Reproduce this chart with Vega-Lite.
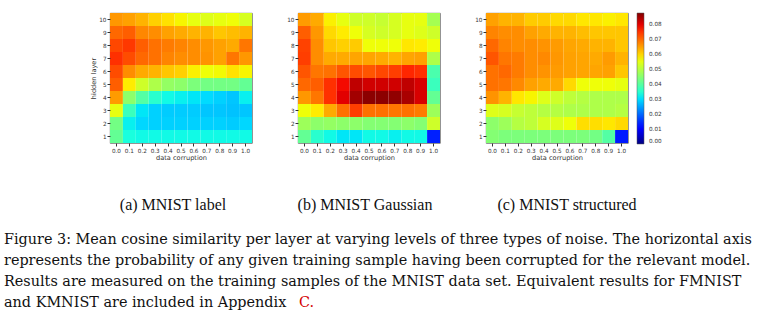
{
"$schema": "https://vega.github.io/schema/vega-lite/v6.json",
"autosize": {"type": "pad"},
"padding": {"left": 4, "top": 12, "right": 0, "bottom": 0},
"background": "white",
"config": {
  "view": {"stroke": "#555", "strokeWidth": 0.8},
  "axis": {"labelFont": "DejaVu Sans", "labelFontSize": 5.7, "labelColor": "#333", "titleFont": "DejaVu Sans", "titleFontSize": 6.6, "titleFontWeight": "normal", "titleColor": "#333", "tickColor": "#333", "tickSize": 3, "domain": false, "grid": false, "labelPadding": 1, "titlePadding": 2},
  "title": {"font": "Liberation Serif", "fontSize": 16, "fontWeight": "normal", "color": "#111"}
},
"datasets": {
"label": [
{"c":"0.0","l":10,"v":0.0657},{"c":"0.1","l":10,"v":0.0648},{"c":"0.2","l":10,"v":0.0631},{"c":"0.3","l":10,"v":0.0604},{"c":"0.4","l":10,"v":0.0587},{"c":"0.5","l":10,"v":0.0569},{"c":"0.6","l":10,"v":0.0552},{"c":"0.7","l":10,"v":0.0543},{"c":"0.8","l":10,"v":0.0552},{"c":"0.9","l":10,"v":0.0561},{"c":"1.0","l":10,"v":0.0534},
{"c":"0.0","l":9,"v":0.0701},{"c":"0.1","l":9,"v":0.0710},{"c":"0.2","l":9,"v":0.0672},{"c":"0.3","l":9,"v":0.0666},{"c":"0.4","l":9,"v":0.0648},{"c":"0.5","l":9,"v":0.0639},{"c":"0.6","l":9,"v":0.0631},{"c":"0.7","l":9,"v":0.0631},{"c":"0.8","l":9,"v":0.0613},{"c":"0.9","l":9,"v":0.0622},{"c":"1.0","l":9,"v":0.0631},
{"c":"0.0","l":8,"v":0.0731},{"c":"0.1","l":8,"v":0.0745},{"c":"0.2","l":8,"v":0.0710},{"c":"0.3","l":8,"v":0.0692},{"c":"0.4","l":8,"v":0.0683},{"c":"0.5","l":8,"v":0.0675},{"c":"0.6","l":8,"v":0.0666},{"c":"0.7","l":8,"v":0.0657},{"c":"0.8","l":8,"v":0.0648},{"c":"0.9","l":8,"v":0.0639},{"c":"1.0","l":8,"v":0.0688},
{"c":"0.0","l":7,"v":0.0753},{"c":"0.1","l":7,"v":0.0727},{"c":"0.2","l":7,"v":0.0701},{"c":"0.3","l":7,"v":0.0692},{"c":"0.4","l":7,"v":0.0675},{"c":"0.5","l":7,"v":0.0666},{"c":"0.6","l":7,"v":0.0666},{"c":"0.7","l":7,"v":0.0661},{"c":"0.8","l":7,"v":0.0648},{"c":"0.9","l":7,"v":0.0688},{"c":"1.0","l":7,"v":0.0657},
{"c":"0.0","l":6,"v":0.0727},{"c":"0.1","l":6,"v":0.0666},{"c":"0.2","l":6,"v":0.0639},{"c":"0.3","l":6,"v":0.0631},{"c":"0.4","l":6,"v":0.0613},{"c":"0.5","l":6,"v":0.0604},{"c":"0.6","l":6,"v":0.0574},{"c":"0.7","l":6,"v":0.0561},{"c":"0.8","l":6,"v":0.0565},{"c":"0.9","l":6,"v":0.0587},{"c":"1.0","l":6,"v":0.0569},
{"c":"0.0","l":5,"v":0.0710},{"c":"0.1","l":5,"v":0.0578},{"c":"0.2","l":5,"v":0.0526},{"c":"0.3","l":5,"v":0.0491},{"c":"0.4","l":5,"v":0.0464},{"c":"0.5","l":5,"v":0.0456},{"c":"0.6","l":5,"v":0.0438},{"c":"0.7","l":5,"v":0.0429},{"c":"0.8","l":5,"v":0.0429},{"c":"0.9","l":5,"v":0.0429},{"c":"1.0","l":5,"v":0.0412},
{"c":"0.0","l":4,"v":0.0653},{"c":"0.1","l":4,"v":0.0456},{"c":"0.2","l":4,"v":0.0394},{"c":"0.3","l":4,"v":0.0350},{"c":"0.4","l":4,"v":0.0324},{"c":"0.5","l":4,"v":0.0315},{"c":"0.6","l":4,"v":0.0307},{"c":"0.7","l":4,"v":0.0298},{"c":"0.8","l":4,"v":0.0289},{"c":"0.9","l":4,"v":0.0280},{"c":"1.0","l":4,"v":0.0315},
{"c":"0.0","l":3,"v":0.0552},{"c":"0.1","l":3,"v":0.0368},{"c":"0.2","l":3,"v":0.0307},{"c":"0.3","l":3,"v":0.0289},{"c":"0.4","l":3,"v":0.0285},{"c":"0.5","l":3,"v":0.0285},{"c":"0.6","l":3,"v":0.0285},{"c":"0.7","l":3,"v":0.0280},{"c":"0.8","l":3,"v":0.0280},{"c":"0.9","l":3,"v":0.0276},{"c":"1.0","l":3,"v":0.0280},
{"c":"0.0","l":2,"v":0.0429},{"c":"0.1","l":2,"v":0.0315},{"c":"0.2","l":2,"v":0.0294},{"c":"0.3","l":2,"v":0.0289},{"c":"0.4","l":2,"v":0.0289},{"c":"0.5","l":2,"v":0.0289},{"c":"0.6","l":2,"v":0.0289},{"c":"0.7","l":2,"v":0.0289},{"c":"0.8","l":2,"v":0.0289},{"c":"0.9","l":2,"v":0.0285},{"c":"1.0","l":2,"v":0.0294},
{"c":"0.0","l":1,"v":0.0412},{"c":"0.1","l":1,"v":0.0333},{"c":"0.2","l":1,"v":0.0324},{"c":"0.3","l":1,"v":0.0324},{"c":"0.4","l":1,"v":0.0324},{"c":"0.5","l":1,"v":0.0324},{"c":"0.6","l":1,"v":0.0324},{"c":"0.7","l":1,"v":0.0324},{"c":"0.8","l":1,"v":0.0324},{"c":"0.9","l":1,"v":0.0324},{"c":"1.0","l":1,"v":0.0324}
],
"gaussian": [
{"c":"0.0","l":10,"v":0.0653},{"c":"0.1","l":10,"v":0.0639},{"c":"0.2","l":10,"v":0.0574},{"c":"0.3","l":10,"v":0.0552},{"c":"0.4","l":10,"v":0.0526},{"c":"0.5","l":10,"v":0.0526},{"c":"0.6","l":10,"v":0.0517},{"c":"0.7","l":10,"v":0.0534},{"c":"0.8","l":10,"v":0.0552},{"c":"0.9","l":10,"v":0.0552},{"c":"1.0","l":10,"v":0.0482},
{"c":"0.0","l":9,"v":0.0710},{"c":"0.1","l":9,"v":0.0657},{"c":"0.2","l":9,"v":0.0596},{"c":"0.3","l":9,"v":0.0578},{"c":"0.4","l":9,"v":0.0561},{"c":"0.5","l":9,"v":0.0534},{"c":"0.6","l":9,"v":0.0526},{"c":"0.7","l":9,"v":0.0534},{"c":"0.8","l":9,"v":0.0552},{"c":"0.9","l":9,"v":0.0543},{"c":"1.0","l":9,"v":0.0526},
{"c":"0.0","l":8,"v":0.0736},{"c":"0.1","l":8,"v":0.0666},{"c":"0.2","l":8,"v":0.0613},{"c":"0.3","l":8,"v":0.0604},{"c":"0.4","l":8,"v":0.0609},{"c":"0.5","l":8,"v":0.0561},{"c":"0.6","l":8,"v":0.0561},{"c":"0.7","l":8,"v":0.0561},{"c":"0.8","l":8,"v":0.0583},{"c":"0.9","l":8,"v":0.0578},{"c":"1.0","l":8,"v":0.0561},
{"c":"0.0","l":7,"v":0.0740},{"c":"0.1","l":7,"v":0.0666},{"c":"0.2","l":7,"v":0.0639},{"c":"0.3","l":7,"v":0.0639},{"c":"0.4","l":7,"v":0.0644},{"c":"0.5","l":7,"v":0.0644},{"c":"0.6","l":7,"v":0.0639},{"c":"0.7","l":7,"v":0.0631},{"c":"0.8","l":7,"v":0.0644},{"c":"0.9","l":7,"v":0.0648},{"c":"1.0","l":7,"v":0.0491},
{"c":"0.0","l":6,"v":0.0718},{"c":"0.1","l":6,"v":0.0688},{"c":"0.2","l":6,"v":0.0692},{"c":"0.3","l":6,"v":0.0718},{"c":"0.4","l":6,"v":0.0727},{"c":"0.5","l":6,"v":0.0718},{"c":"0.6","l":6,"v":0.0731},{"c":"0.7","l":6,"v":0.0740},{"c":"0.8","l":6,"v":0.0762},{"c":"0.9","l":6,"v":0.0753},{"c":"1.0","l":6,"v":0.0385},
{"c":"0.0","l":5,"v":0.0701},{"c":"0.1","l":5,"v":0.0710},{"c":"0.2","l":5,"v":0.0753},{"c":"0.3","l":5,"v":0.0788},{"c":"0.4","l":5,"v":0.0828},{"c":"0.5","l":5,"v":0.0815},{"c":"0.6","l":5,"v":0.0815},{"c":"0.7","l":5,"v":0.0815},{"c":"0.8","l":5,"v":0.0828},{"c":"0.9","l":5,"v":0.0810},{"c":"1.0","l":5,"v":0.0368},
{"c":"0.0","l":4,"v":0.0657},{"c":"0.1","l":4,"v":0.0688},{"c":"0.2","l":4,"v":0.0753},{"c":"0.3","l":4,"v":0.0802},{"c":"0.4","l":4,"v":0.0850},{"c":"0.5","l":4,"v":0.0867},{"c":"0.6","l":4,"v":0.0867},{"c":"0.7","l":4,"v":0.0863},{"c":"0.8","l":4,"v":0.0845},{"c":"0.9","l":4,"v":0.0810},{"c":"1.0","l":4,"v":0.0412},
{"c":"0.0","l":3,"v":0.0561},{"c":"0.1","l":3,"v":0.0578},{"c":"0.2","l":3,"v":0.0639},{"c":"0.3","l":3,"v":0.0692},{"c":"0.4","l":3,"v":0.0740},{"c":"0.5","l":3,"v":0.0692},{"c":"0.6","l":3,"v":0.0692},{"c":"0.7","l":3,"v":0.0688},{"c":"0.8","l":3,"v":0.0692},{"c":"0.9","l":3,"v":0.0683},{"c":"1.0","l":3,"v":0.0473},
{"c":"0.0","l":2,"v":0.0473},{"c":"0.1","l":2,"v":0.0456},{"c":"0.2","l":2,"v":0.0464},{"c":"0.3","l":2,"v":0.0456},{"c":"0.4","l":2,"v":0.0456},{"c":"0.5","l":2,"v":0.0447},{"c":"0.6","l":2,"v":0.0447},{"c":"0.7","l":2,"v":0.0447},{"c":"0.8","l":2,"v":0.0456},{"c":"0.9","l":2,"v":0.0447},{"c":"1.0","l":2,"v":0.0526},
{"c":"0.0","l":1,"v":0.0412},{"c":"0.1","l":1,"v":0.0350},{"c":"0.2","l":1,"v":0.0324},{"c":"0.3","l":1,"v":0.0307},{"c":"0.4","l":1,"v":0.0307},{"c":"0.5","l":1,"v":0.0324},{"c":"0.6","l":1,"v":0.0324},{"c":"0.7","l":1,"v":0.0315},{"c":"0.8","l":1,"v":0.0324},{"c":"0.9","l":1,"v":0.0324},{"c":"1.0","l":1,"v":0.0136}
],
"structured": [
{"c":"0.0","l":10,"v":0.0648},{"c":"0.1","l":10,"v":0.0631},{"c":"0.2","l":10,"v":0.0631},{"c":"0.3","l":10,"v":0.0609},{"c":"0.4","l":10,"v":0.0609},{"c":"0.5","l":10,"v":0.0596},{"c":"0.6","l":10,"v":0.0596},{"c":"0.7","l":10,"v":0.0583},{"c":"0.8","l":10,"v":0.0583},{"c":"0.9","l":10,"v":0.0574},{"c":"1.0","l":10,"v":0.0583},
{"c":"0.0","l":9,"v":0.0675},{"c":"0.1","l":9,"v":0.0666},{"c":"0.2","l":9,"v":0.0666},{"c":"0.3","l":9,"v":0.0648},{"c":"0.4","l":9,"v":0.0639},{"c":"0.5","l":9,"v":0.0631},{"c":"0.6","l":9,"v":0.0631},{"c":"0.7","l":9,"v":0.0622},{"c":"0.8","l":9,"v":0.0613},{"c":"0.9","l":9,"v":0.0613},{"c":"1.0","l":9,"v":0.0613},
{"c":"0.0","l":8,"v":0.0701},{"c":"0.1","l":8,"v":0.0675},{"c":"0.2","l":8,"v":0.0666},{"c":"0.3","l":8,"v":0.0666},{"c":"0.4","l":8,"v":0.0661},{"c":"0.5","l":8,"v":0.0653},{"c":"0.6","l":8,"v":0.0644},{"c":"0.7","l":8,"v":0.0639},{"c":"0.8","l":8,"v":0.0631},{"c":"0.9","l":8,"v":0.0631},{"c":"1.0","l":8,"v":0.0613},
{"c":"0.0","l":7,"v":0.0718},{"c":"0.1","l":7,"v":0.0688},{"c":"0.2","l":7,"v":0.0683},{"c":"0.3","l":7,"v":0.0666},{"c":"0.4","l":7,"v":0.0670},{"c":"0.5","l":7,"v":0.0657},{"c":"0.6","l":7,"v":0.0648},{"c":"0.7","l":7,"v":0.0644},{"c":"0.8","l":7,"v":0.0639},{"c":"0.9","l":7,"v":0.0653},{"c":"1.0","l":7,"v":0.0631},
{"c":"0.0","l":6,"v":0.0692},{"c":"0.1","l":6,"v":0.0701},{"c":"0.2","l":6,"v":0.0683},{"c":"0.3","l":6,"v":0.0666},{"c":"0.4","l":6,"v":0.0661},{"c":"0.5","l":6,"v":0.0653},{"c":"0.6","l":6,"v":0.0648},{"c":"0.7","l":6,"v":0.0644},{"c":"0.8","l":6,"v":0.0644},{"c":"0.9","l":6,"v":0.0648},{"c":"1.0","l":6,"v":0.0613},
{"c":"0.0","l":5,"v":0.0692},{"c":"0.1","l":5,"v":0.0688},{"c":"0.2","l":5,"v":0.0670},{"c":"0.3","l":5,"v":0.0648},{"c":"0.4","l":5,"v":0.0639},{"c":"0.5","l":5,"v":0.0639},{"c":"0.6","l":5,"v":0.0596},{"c":"0.7","l":5,"v":0.0561},{"c":"0.8","l":5,"v":0.0561},{"c":"0.9","l":5,"v":0.0561},{"c":"1.0","l":5,"v":0.0552},
{"c":"0.0","l":4,"v":0.0661},{"c":"0.1","l":4,"v":0.0631},{"c":"0.2","l":4,"v":0.0583},{"c":"0.3","l":4,"v":0.0569},{"c":"0.4","l":4,"v":0.0543},{"c":"0.5","l":4,"v":0.0526},{"c":"0.6","l":4,"v":0.0508},{"c":"0.7","l":4,"v":0.0499},{"c":"0.8","l":4,"v":0.0491},{"c":"0.9","l":4,"v":0.0491},{"c":"1.0","l":4,"v":0.0491},
{"c":"0.0","l":3,"v":0.0543},{"c":"0.1","l":3,"v":0.0534},{"c":"0.2","l":3,"v":0.0517},{"c":"0.3","l":3,"v":0.0508},{"c":"0.4","l":3,"v":0.0499},{"c":"0.5","l":3,"v":0.0499},{"c":"0.6","l":3,"v":0.0491},{"c":"0.7","l":3,"v":0.0491},{"c":"0.8","l":3,"v":0.0491},{"c":"0.9","l":3,"v":0.0491},{"c":"1.0","l":3,"v":0.0499},
{"c":"0.0","l":2,"v":0.0456},{"c":"0.1","l":2,"v":0.0473},{"c":"0.2","l":2,"v":0.0499},{"c":"0.3","l":2,"v":0.0508},{"c":"0.4","l":2,"v":0.0534},{"c":"0.5","l":2,"v":0.0543},{"c":"0.6","l":2,"v":0.0561},{"c":"0.7","l":2,"v":0.0591},{"c":"0.8","l":2,"v":0.0591},{"c":"0.9","l":2,"v":0.0583},{"c":"1.0","l":2,"v":0.0596},
{"c":"0.0","l":1,"v":0.0447},{"c":"0.1","l":1,"v":0.0438},{"c":"0.2","l":1,"v":0.0438},{"c":"0.3","l":1,"v":0.0438},{"c":"0.4","l":1,"v":0.0438},{"c":"0.5","l":1,"v":0.0438},{"c":"0.6","l":1,"v":0.0438},{"c":"0.7","l":1,"v":0.0438},{"c":"0.8","l":1,"v":0.0429},{"c":"0.9","l":1,"v":0.0394},{"c":"1.0","l":1,"v":0.0131}
],
"caption": [
{"line": 1, "text": "Figure 3: Mean cosine similarity per layer at varying levels of three types of noise. The horizontal axis"},
{"line": 2, "text": "represents the probability of any given training sample having been corrupted for the relevant model."},
{"line": 3, "text": "Results are measured on the training samples of the MNIST data set.  Equivalent results for FMNIST"},
{"line": 4, "text": "and KMNIST are included in Appendix"}
],
"captionref": [
{"line": 4, "text": "C."}
]
},
"spacing": 221,
"bounds": "flush",
"vconcat": [
{
  "hconcat": [
    {
      "data": {"name": "label"},
      "width": 142, "height": 130,
      "title": {"text": "(a) MNIST label", "orient": "bottom", "offset": 36, "dx": -8},
      "mark": {"type": "rect"},
      "encoding": {
        "x": {"field": "c", "type": "ordinal", "title": "data corruption", "axis": {"labelAngle": 0}, "scale": {"paddingInner": 0, "paddingOuter": 0}},
        "y": {"field": "l", "type": "ordinal", "sort": "descending", "title": "hidden layer", "scale": {"paddingInner": 0, "paddingOuter": 0}},
        "color": {"field": "v", "type": "quantitative", "legend": null,
          "scale": {"type": "linear", "zero": false, "nice": false, "interpolate": "rgb",
            "domain": [0, 0.009636, 0.01095, 0.029784, 0.03066, 0.03285, 0.056064, 0.05694, 0.057816, 0.077964, 0.079716, 0.0876],
            "range": ["#000080", "#0000ff", "#0000ff", "#00dbff", "#00e6f7", "#15ffe2", "#efff08", "#f7f500", "#ffec00", "#ff1300", "#e80000", "#800000"]}}
      }
    },
    {
      "data": {"name": "gaussian"},
      "width": 142, "height": 130,
      "title": {"text": "(b) MNIST Gaussian", "orient": "bottom", "offset": 36, "dx": -4},
      "mark": {"type": "rect"},
      "encoding": {
        "x": {"field": "c", "type": "ordinal", "title": "data corruption", "axis": {"labelAngle": 0}, "scale": {"paddingInner": 0, "paddingOuter": 0}},
        "y": {"field": "l", "type": "ordinal", "sort": "descending", "title": null, "scale": {"paddingInner": 0, "paddingOuter": 0}},
        "color": {"field": "v", "type": "quantitative", "legend": null,
          "scale": {"type": "linear", "zero": false, "nice": false, "interpolate": "rgb",
            "domain": [0, 0.009636, 0.01095, 0.029784, 0.03066, 0.03285, 0.056064, 0.05694, 0.057816, 0.077964, 0.079716, 0.0876],
            "range": ["#000080", "#0000ff", "#0000ff", "#00dbff", "#00e6f7", "#15ffe2", "#efff08", "#f7f500", "#ffec00", "#ff1300", "#e80000", "#800000"]}}
      }
    },
    {
      "data": {"name": "structured"},
      "width": 142, "height": 130,
      "title": {"text": "(c) MNIST structured", "orient": "bottom", "offset": 36, "dx": 10},
      "mark": {"type": "rect"},
      "encoding": {
        "x": {"field": "c", "type": "ordinal", "title": "data corruption", "axis": {"labelAngle": 0}, "scale": {"paddingInner": 0, "paddingOuter": 0}},
        "y": {"field": "l", "type": "ordinal", "sort": "descending", "title": null, "scale": {"paddingInner": 0, "paddingOuter": 0}},
        "color": {"field": "v", "type": "quantitative",
          "legend": {"orient": "right", "offset": 9, "title": null, "gradientLength": 131, "gradientThickness": 7, "values": [0, 0.01, 0.02, 0.03, 0.04, 0.05, 0.06, 0.07, 0.08], "format": ".2f", "labelFont": "DejaVu Sans", "labelFontSize": 5.7, "labelColor": "#333", "labelOffset": 5, "gradientStrokeColor": "#555", "gradientStrokeWidth": 0.5, "padding": 0},
          "scale": {"type": "linear", "zero": false, "nice": false, "interpolate": "rgb",
            "domain": [0, 0.009636, 0.01095, 0.029784, 0.03066, 0.03285, 0.056064, 0.05694, 0.057816, 0.077964, 0.079716, 0.0876],
            "range": ["#000080", "#0000ff", "#0000ff", "#00dbff", "#00e6f7", "#15ffe2", "#efff08", "#f7f500", "#ffec00", "#ff1300", "#e80000", "#800000"]}}
      }
    }
  ],
  "spacing": 46,
  "bounds": "flush",
  "resolve": {"legend": {"color": "independent"}}
},
{
  "width": 1, "height": 83,
  "view": {"stroke": null},
  "layer": [
    {
      "data": {"name": "caption"},
      "mark": {"type": "text", "align": "left", "baseline": "alphabetic", "font": "DejaVu Serif", "fontSize": 14.4, "color": "#111", "x": -106},
      "encoding": {
        "y": {"field": "line", "type": "ordinal", "axis": null, "scale": {"paddingInner": 0, "paddingOuter": 0}},
        "text": {"field": "text"}
      }
    },
    {
      "data": {"name": "captionref"},
      "mark": {"type": "text", "align": "left", "baseline": "alphabetic", "font": "DejaVu Serif", "fontSize": 14.4, "color": "#d40000", "x": 189},
      "encoding": {
        "y": {"field": "line", "type": "ordinal", "axis": null, "scale": {"paddingInner": 0, "paddingOuter": 0}},
        "text": {"field": "text"}
      }
    }
  ]
}
]
}
